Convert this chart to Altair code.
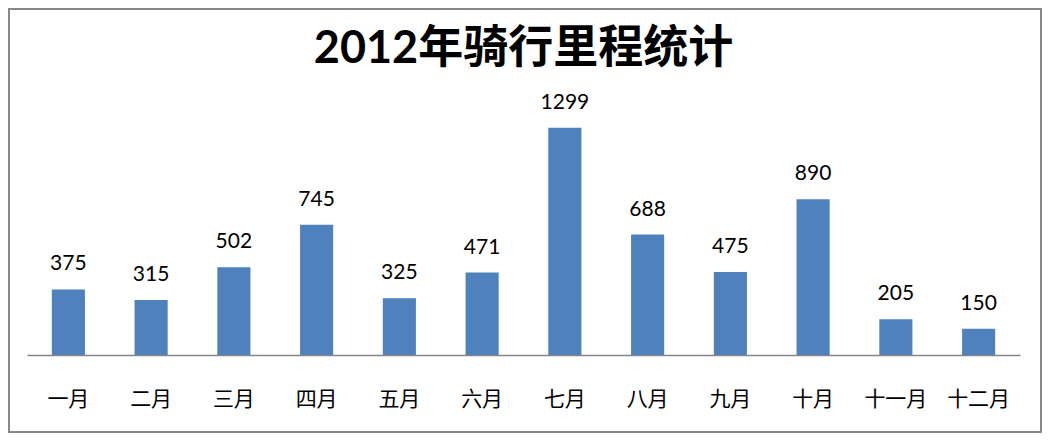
import altair as alt
import pandas as pd

months = ["一月", "二月", "三月", "四月", "五月", "六月", "七月", "八月", "九月", "十月", "十一月", "十二月"]
distance = [375, 315, 502, 745, 325, 471, 1299, 688, 475, 890, 205, 150]

df = pd.DataFrame({"month": months, "km": distance})

W, H = 993, 245
PL, PR, PT, PB = 19, 22, 102, 78

x = alt.X("month:N", sort=months,
          scale=alt.Scale(paddingInner=0.6, paddingOuter=0.3),
          axis=alt.Axis(title=None, labelAngle=0, labelFont="Noto Sans CJK SC",
                        labelFontSize=21, labelColor="#000000", labelPadding=33,
                        ticks=False, domainColor="#868686", domainWidth=1.5, grid=False))
y = alt.Y("km:Q", scale=alt.Scale(domain=[0, 1400]), axis=None)

bars = alt.Chart(df).mark_bar(color="#4F81BD").encode(x=x, y=y)
labels = alt.Chart(df).mark_text(baseline="alphabetic", dy=-19, font="Lato",
                                 fontSize=21, color="#000000").encode(
    x=alt.X("month:N", sort=months), y=y, text="km:Q")

frame = alt.Chart(df).mark_rect(fill=None, stroke="#888888", strokeWidth=2).encode(
    x=alt.value(-PL + 1), x2=alt.value(W + PR - 1),
    y=alt.value(-PT + 1), y2=alt.value(H + PB - 1))

chart = alt.layer(frame, bars, labels).properties(
    width=W, height=H,
    autosize=alt.AutoSizeParams(type="none"),
    padding={"left": PL, "right": PR, "top": PT, "bottom": PB},
    title=alt.Title("2012年骑行里程统计", font="Lato, Noto Sans CJK SC", fontSize=45,
                    fontWeight="bold", color="#000000", anchor="middle", offset=-64),
).configure(background="white").configure_view(stroke=None, strokeWidth=0)

chart.save("out.html", embed_options={"renderer": "svg", "actions": False})
